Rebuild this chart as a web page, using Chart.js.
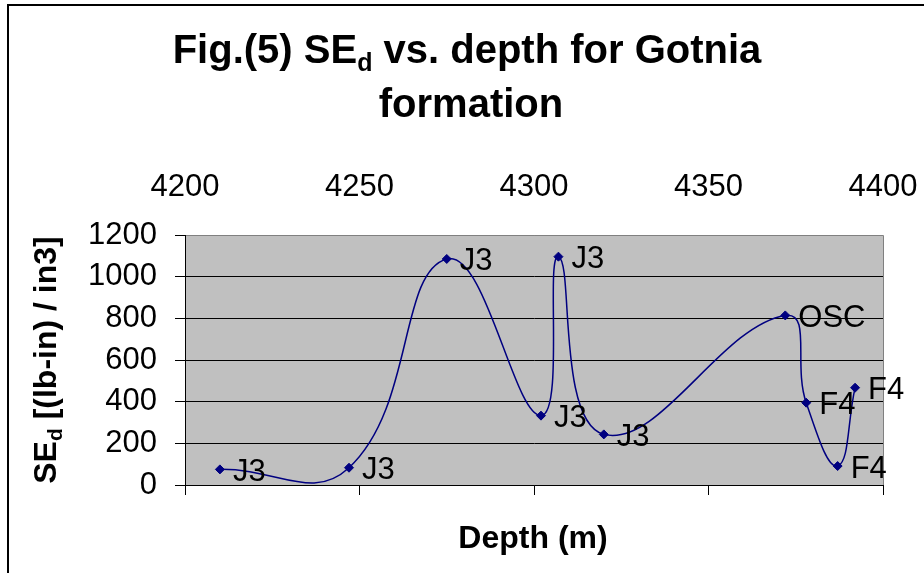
<!DOCTYPE html>
<html>
<head>
<meta charset="utf-8">
<script src="https://cdn.jsdelivr.net/npm/chart.js@4.4.1/dist/chart.umd.min.js"></script>
<style>
  html, body { margin: 0; padding: 0; background: #fff; }
  #wrap { width: 924px; height: 573px; }
</style>
</head>
<body>
<div id="wrap"><canvas id="c" width="924" height="573"></canvas></div>
<script>
// Specific energy (SEd) measured against depth, Gotnia formation
const depths      = [4210, 4247, 4275, 4302, 4307, 4320, 4372, 4378, 4387, 4392];
const sedValues   = [75, 83, 1085, 333, 1096, 243, 814, 395, 91, 467];
const formations  = ['J3', 'J3', 'J3', 'J3', 'J3', 'J3', 'OSC', 'F4', 'F4', 'F4'];
const depthTicks  = [4200, 4250, 4300, 4350, 4400];
const sedTicks    = [0, 200, 400, 600, 800, 1000, 1200];

const FONT = 'Arial, "Liberation Sans", sans-serif';

// Draws a line of text made of runs (text, font, baseline shift), centred on cx
function drawRuns(ctx, runs, cx, baseline) {
  let total = 0;
  runs.forEach(r => { ctx.font = r[1]; total += ctx.measureText(r[0]).width; });
  let x = cx - total / 2;
  ctx.textAlign = 'left';
  ctx.textBaseline = 'alphabetic';
  runs.forEach(r => {
    ctx.font = r[1];
    ctx.fillText(r[0], x, baseline + (r[2] || 0));
    x += ctx.measureText(r[0]).width;
  });
}

const decor = {
  id: 'decor',
  beforeDraw(chart) {
    const { ctx, chartArea: a } = chart;
    ctx.save();
    ctx.fillStyle = '#fff';
    ctx.fillRect(0, 0, chart.width, chart.height);
    // outer frame
    ctx.strokeStyle = '#000';
    ctx.lineWidth = 2;
    ctx.beginPath();
    ctx.moveTo(8, chart.height);
    ctx.lineTo(8, 5);
    ctx.lineTo(chart.width, 5);
    ctx.stroke();
    // plot area fill and border
    ctx.fillStyle = '#C0C0C0';
    ctx.fillRect(a.left, a.top, a.right - a.left, a.bottom - a.top);
    ctx.strokeStyle = '#808080';
    ctx.lineWidth = 1;
    ctx.beginPath();
    ctx.moveTo(a.left, a.top + 0.5);
    ctx.lineTo(a.right + 0.5, a.top + 0.5);
    ctx.lineTo(a.right + 0.5, a.bottom);
    ctx.stroke();
    ctx.restore();
  },
  afterDatasetsDraw(chart) {
    const ctx = chart.ctx;
    const meta = chart.getDatasetMeta(0);
    ctx.save();
    ctx.fillStyle = '#000';
    ctx.font = '31px ' + FONT;
    ctx.textAlign = 'left';
    ctx.textBaseline = 'alphabetic';
    meta.data.forEach((pt, i) => {
      ctx.fillText(formations[i], pt.x + 13, pt.y + 11.5);
    });
    ctx.restore();
  },
  afterDraw(chart) {
    const ctx = chart.ctx;
    ctx.save();
    ctx.fillStyle = '#000';
    const tMain = 'bold 40px ' + FONT;
    const tSub = 'bold 25px ' + FONT;
    drawRuns(ctx, [['Fig.(5) SE', tMain], ['d', tSub, 8], [' vs. depth for Gotnia', tMain]], 467, 63);
    drawRuns(ctx, [['formation', tMain]], 471, 117);

    // x axis title
    drawRuns(ctx, [['Depth (m)', 'bold 32px ' + FONT]], 533, 548);

    // y axis title, rotated
    ctx.translate(56, 360);
    ctx.rotate(-Math.PI / 2);
    const yMain = 'bold 32px ' + FONT;
    const ySub = 'bold 21px ' + FONT;
    drawRuns(ctx, [['SE', yMain], ['d', ySub, 6], [' [(lb-in) / in3]', yMain]], 0, 0);
    ctx.restore();
  }
};

const points = depths.map((d, i) => ({ x: d, y: sedValues[i] }));
const plain = v => String(v);

new Chart(document.getElementById('c'), {
  type: 'line',
  data: {
    datasets: [{
      data: points,
      xAxisID: 'x',
      yAxisID: 'y',
      borderColor: '#000080',
      borderWidth: 1.5,
      backgroundColor: '#000080',
      pointStyle: 'rectRot',
      pointRadius: 4.5,
      pointBackgroundColor: '#000080',
      pointBorderColor: '#000080',
      pointBorderWidth: 1,
      tension: 0.45,
      fill: false
    }]
  },
  options: {
    responsive: false,
    devicePixelRatio: 1,
    animation: false,
    events: [],
    layout: { padding: { left: 0, top: 0, right: 41, bottom: 0 } },
    plugins: { legend: { display: false }, title: { display: false }, tooltip: { enabled: false } },
    elements: { line: { capBezierPoints: false } },
    scales: {
      x: {
        type: 'linear',
        position: 'bottom',
        min: 4200,
        max: 4400,
        afterBuildTicks: s => { s.ticks = depthTicks.map(v => ({ value: v })); },
        afterFit: s => { s.height = 88; s.paddingLeft = 0; s.paddingRight = 0; },
        ticks: { display: false },
        grid: { drawOnChartArea: false, drawTicks: true, tickLength: 10, color: '#000', tickColor: '#000', lineWidth: 1 },
        border: { display: true, color: '#000', width: 1 }
      },
      x2: {
        type: 'linear',
        position: 'top',
        min: 4200,
        max: 4400,
        afterBuildTicks: s => { s.ticks = depthTicks.map(v => ({ value: v })); },
        afterFit: s => { s.height = 235; s.paddingLeft = 0; s.paddingRight = 0; },
        ticks: { color: '#000', font: { family: FONT, size: 31 }, padding: 29, maxRotation: 0, autoSkip: false, callback: plain },
        grid: { display: false, drawTicks: false },
        border: { display: false }
      },
      y: {
        type: 'linear',
        position: 'left',
        min: 0,
        max: 1200,
        afterBuildTicks: s => { s.ticks = sedTicks.map(v => ({ value: v })); },
        afterFit: s => { s.width = 185; s.paddingTop = 0; s.paddingBottom = 0; },
        ticks: { color: '#000', font: { family: FONT, size: 31 }, padding: 18, callback: plain },
        grid: {
          color: c => (c.tick && c.tick.value === 1200 ? '#808080' : '#000'),
          tickColor: '#000',
          tickLength: 10,
          lineWidth: 1
        },
        border: { display: true, color: '#000', width: 1 }
      }
    }
  },
  plugins: [decor]
});
</script>
</body>
</html>
